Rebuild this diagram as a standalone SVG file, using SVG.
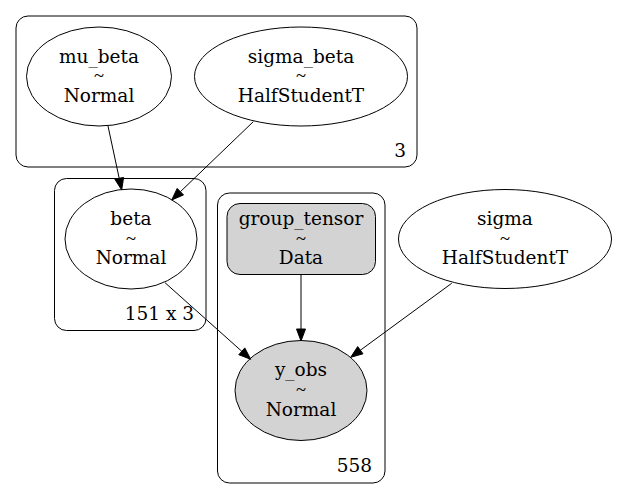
<svg xmlns="http://www.w3.org/2000/svg" width="617" height="498" viewBox="0 0 617 498">
<style>
text{font-family:"DejaVu Serif","Liberation Serif",serif;font-size:18.5px;fill:#000}
text.t{font-family:"Liberation Serif","DejaVu Serif",serif}
.m{text-anchor:middle}
.e{text-anchor:end}
.c{fill:none;stroke:#000;stroke-width:1}
.n{fill:#fff;stroke:#000;stroke-width:1}
.g{fill:#d3d3d3;stroke:#000;stroke-width:1}
.ed line{stroke:#000;stroke-width:1}
.ed polygon{fill:#000;stroke:#000;stroke-width:1}
</style>
<rect width="617" height="498" fill="#fff"/>
<g id="cluster_3">
<rect class="c" x="16" y="16" width="401" height="151" rx="12"/>
<text class="e" x="406" y="157">3</text>
</g>
<g id="cluster_151x3">
<rect class="c" x="54.5" y="178.5" width="151.5" height="152" rx="12"/>
<text class="e" x="194" y="320">151 x 3</text>
</g>
<g id="cluster_558">
<rect class="c" x="217.5" y="193" width="167.5" height="290" rx="12"/>
<text class="e" x="372" y="471.5">558</text>
</g>
<g id="mu_beta">
<ellipse class="n" cx="99" cy="76.5" rx="72.5" ry="49.5"/>
<text class="m" x="99" y="62.5">mu_beta</text>
<text class="m t" x="99" y="82">~</text>
<text class="m" x="99" y="102">Normal</text>
</g>
<g id="sigma_beta">
<ellipse class="n" cx="301" cy="76.5" rx="106.5" ry="49.5"/>
<text class="m" x="301" y="62.5">sigma_beta</text>
<text class="m t" x="301" y="82">~</text>
<text class="m" x="301" y="102">HalfStudentT</text>
</g>
<g id="beta">
<ellipse class="n" cx="131" cy="239" rx="66" ry="50"/>
<text class="m" x="131" y="224.5">beta</text>
<text class="m t" x="131" y="244.5">~</text>
<text class="m" x="131" y="264">Normal</text>
</g>
<g id="group_tensor">
<rect class="g" x="227" y="203.5" width="148.5" height="71" rx="13"/>
<text class="m" x="301" y="225">group_tensor</text>
<text class="m t" x="301" y="244.5">~</text>
<text class="m" x="301" y="264">Data</text>
</g>
<g id="sigma">
<ellipse class="n" cx="505" cy="239" rx="106.5" ry="49.5"/>
<text class="m" x="505" y="224.5">sigma</text>
<text class="m t" x="505" y="244.5">~</text>
<text class="m" x="505" y="263.5">HalfStudentT</text>
</g>
<g id="y_obs">
<ellipse class="g" cx="301" cy="390.5" rx="66" ry="50"/>
<text class="m" x="301" y="376">y_obs</text>
<text class="m t" x="301" y="396">~</text>
<text class="m" x="301" y="416">Normal</text>
</g>
<g id="edges" class="ed">
<line x1="108" y1="126" x2="119.2" y2="178.3"/>
<polygon points="123.6,177.4 114.8,179.2 121.7,190"/>
<line x1="253.3" y1="121.7" x2="180.4" y2="191.7"/>
<polygon points="177.2,188.4 183.5,194.9 171.7,200"/>
<line x1="165" y1="282.7" x2="241.8" y2="351.3"/>
<polygon points="238.8,354.7 244.8,347.9 250.7,359.3"/>
<line x1="301" y1="275" x2="301" y2="329"/>
<polygon points="296.5,329 305.5,329 301,341"/>
<line x1="451.7" y1="283.3" x2="360.4" y2="350.2"/>
<polygon points="357.7,346.6 363.0,353.8 350.7,357.3"/>
</g>
</svg>
